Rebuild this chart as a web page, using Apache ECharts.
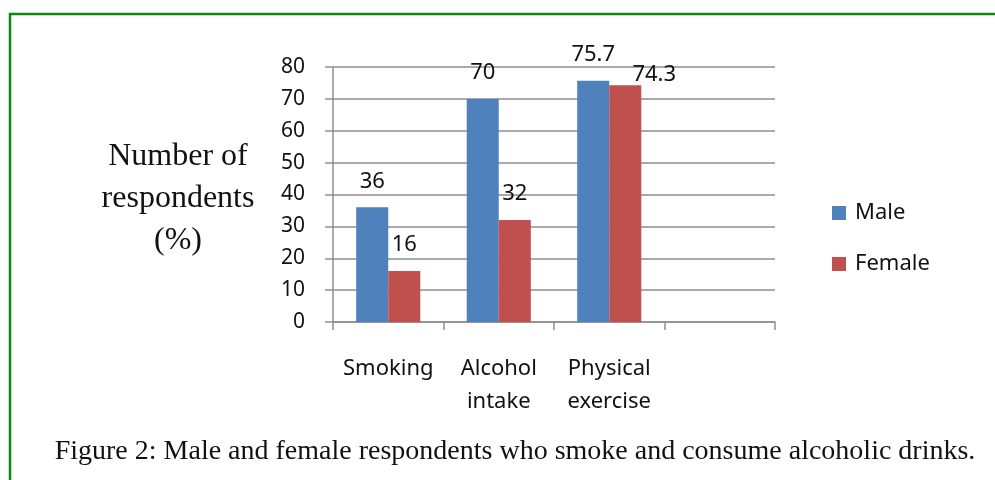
<!DOCTYPE html>
<html>
<head>
<meta charset="utf-8">
<script src="https://cdn.jsdelivr.net/npm/echarts@6.0.0/dist/echarts.min.js"></script>
<style>
  html, body { margin: 0; padding: 0; background: #fff; }
  #chart { width: 995px; height: 480px; }
</style>
</head>
<body>
<div id="chart"></div>
<script type="text/javascript">
// chart data
var categories = ['Smoking', 'Alcohol\nintake', 'Physical\nexercise', ''];
var maleValues = [36, 70, 75.7];
var femaleValues = [16, 32, 74.3];
var yTicks = { min: 0, max: 80, step: 10 };
var yTitle = 'Number of\nrespondents\n(%)';
var caption = 'Figure 2: Male and female respondents who smoke and consume alcoholic drinks.';

var blue = '#4F81BD';
var red = '#C0504D';
var gray = '#8e8e8e';
var sans = '"Noto Sans", "Open Sans", sans-serif';
var serif = '"Liberation Serif", "DejaVu Serif", serif';

var myChart = echarts.init(document.getElementById('chart'));

// the 74.3 label sits to the right of its bar, like in the original
var femaleData = femaleValues.map(function (v, i) {
  if (i === 2) {
    return { value: v, label: { offset: [29, 16] } };
  }
  return v;
});

var option = {
  animation: false,
  backgroundColor: '#fff',
  graphic: [
    {
      type: 'rect',
      shape: { x: 10, y: 14, width: 1000, height: 500 },
      style: { fill: 'none', stroke: '#0a8a0a', lineWidth: 2.5 },
      silent: true
    },
    {
      type: 'text',
      x: 178,
      y: 199,
      style: {
        text: yTitle,
        font: '32px ' + serif,
        lineHeight: 42,
        fill: '#111',
        align: 'center',
        verticalAlign: 'middle'
      }
    },
    {
      type: 'text',
      x: 515,
      y: 452,
      style: {
        text: caption,
        font: '28px ' + serif,
        fill: '#111',
        align: 'center',
        verticalAlign: 'middle'
      }
    }
  ],
  legend: {
    orient: 'vertical',
    left: 827,
    top: 197,
    itemWidth: 14,
    itemHeight: 14,
    itemGap: 29,
    icon: 'rect',
    textStyle: { fontFamily: sans, fontSize: 22, color: '#111', padding: [0, 0, 0, 4] },
    data: ['Male', 'Female']
  },
  grid: { left: 333, right: 220, top: 67, bottom: 158 },
  xAxis: {
    type: 'category',
    data: categories,
    axisLine: { lineStyle: { color: gray, width: 1.5 } },
    axisTick: { show: true, length: 8, lineStyle: { color: gray, width: 1.5 } },
    axisLabel: {
      fontFamily: sans,
      fontSize: 22,
      color: '#111',
      margin: 30,
      lineHeight: 33,
      interval: 0
    }
  },
  yAxis: {
    type: 'value',
    min: yTicks.min,
    max: yTicks.max,
    interval: yTicks.step,
    axisLine: { show: true, lineStyle: { color: gray, width: 1.5 } },
    axisTick: { show: true, length: 8, lineStyle: { color: gray, width: 1.5 } },
    axisLabel: { fontFamily: sans, fontSize: 21, color: '#111', margin: 28 },
    splitLine: { lineStyle: { color: gray, width: 1.5 } }
  },
  series: [
    {
      name: 'Male',
      type: 'bar',
      data: maleValues,
      barGap: '0%',
      barCategoryGap: '42%',
      itemStyle: { color: blue },
      label: { show: true, position: 'top', distance: 15, fontFamily: sans, fontSize: 22, color: '#111' }
    },
    {
      name: 'Female',
      type: 'bar',
      data: femaleData,
      itemStyle: { color: red },
      label: { show: true, position: 'top', distance: 15, fontFamily: sans, fontSize: 22, color: '#111' }
    }
  ]
};

myChart.setOption(option);
</script>
</body>
</html>
